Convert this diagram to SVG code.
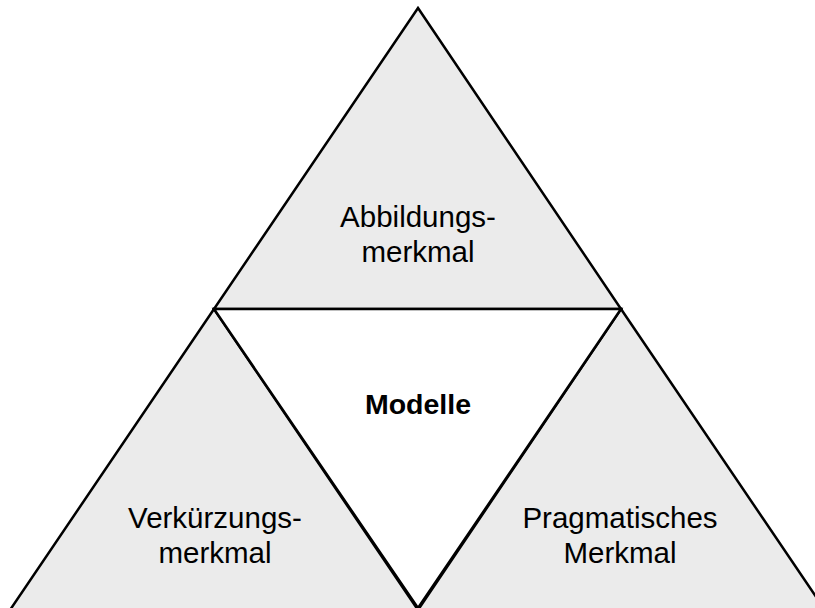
<svg xmlns="http://www.w3.org/2000/svg" width="815" height="608" viewBox="0 0 815 608">
  <style>
    .tri { fill: #ebebeb; stroke: #000; stroke-width: 2.5; stroke-linejoin: miter; }
    .mid { fill: #ffffff; stroke: #000; stroke-width: 2.5; }
    .lbl { font-family: "Liberation Sans", Arial, sans-serif; font-size: 29.5px; fill: #000; text-anchor: middle; }
    .bold { font-weight: bold; font-size: 28.5px; }
  </style>
  <rect width="815" height="608" fill="#ffffff"/>
  <g id="abbildung">
    <polygon class="tri" points="418,8 621,309 214,309"/>
    <text class="lbl" x="418" y="227">Abbildungs-</text>
    <text class="lbl" x="418" y="262">merkmal</text>
  </g>
  <g id="verkuerzung">
    <polygon class="tri" points="214,309 418,610 10,610"/>
    <text class="lbl" x="215" y="528">Verkürzungs-</text>
    <text class="lbl" x="215" y="563">merkmal</text>
  </g>
  <g id="pragmatik">
    <polygon class="tri" points="621,309 825,610 418,610"/>
    <text class="lbl" x="620" y="528">Pragmatisches</text>
    <text class="lbl" x="620" y="563">Merkmal</text>
  </g>
  <g id="modelle">
    <polygon class="mid" points="214,309 621,309 418,608"/>
    <text class="lbl bold" x="418" y="414">Modelle</text>
  </g>
  <g id="connectors"></g>
</svg>
